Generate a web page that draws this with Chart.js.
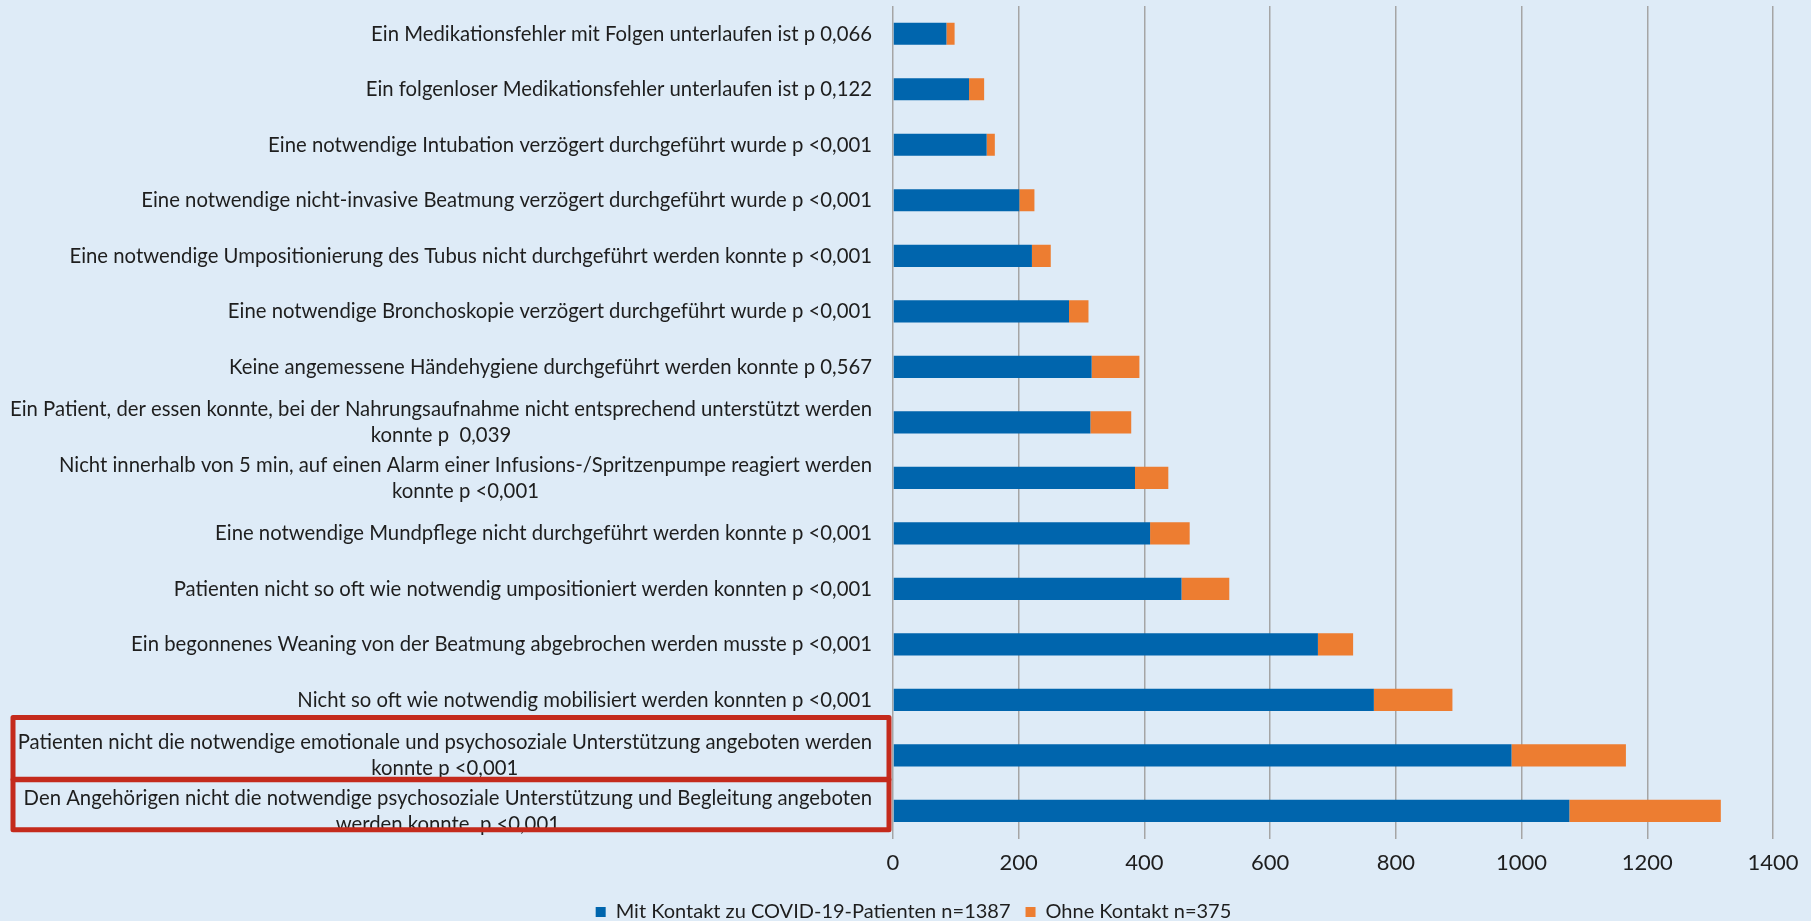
<!DOCTYPE html>
<html>
<head>
<meta charset="utf-8">
<script src="https://cdn.jsdelivr.net/npm/chart.js@4.4.1/dist/chart.umd.min.js"></script>
<style>
    html, body { margin: 0; padding: 0; background: #deebf7; overflow: hidden; }
    /* canvas runs a bit below the window so the legend sits low like in the original */
    #wrap { width: 1811px; height: 921px; overflow: hidden; }
</style>
</head>
<body>
<div id="wrap"><canvas id="careChart" width="1811" height="932"></canvas></div>
<script>
// categories (top to bottom), multi-line labels as arrays
const categories = [
    "Ein Medikationsfehler mit Folgen unterlaufen ist p 0,066",
    "Ein folgenloser Medikationsfehler unterlaufen ist p 0,122",
    "Eine notwendige Intubation verzögert durchgeführt wurde p <0,001",
    "Eine notwendige nicht-invasive Beatmung verzögert durchgeführt wurde p <0,001",
    "Eine notwendige Umpositionierung des Tubus nicht durchgeführt werden konnte p <0,001",
    "Eine notwendige Bronchoskopie verzögert durchgeführt wurde p <0,001",
    "Keine angemessene Händehygiene durchgeführt werden konnte p 0,567",
    ["Ein Patient, der essen konnte, bei der Nahrungsaufnahme nicht entsprechend unterstützt werden", "konnte p  0,039"],
    ["Nicht innerhalb von 5 min, auf einen Alarm einer Infusions-/Spritzenpumpe reagiert werden", "konnte p <0,001"],
    "Eine notwendige Mundpflege nicht durchgeführt werden konnte p <0,001",
    "Patienten nicht so oft wie notwendig umpositioniert werden konnten p <0,001",
    "Ein begonnenes Weaning von der Beatmung abgebrochen werden musste p <0,001",
    "Nicht so oft wie notwendig mobilisiert werden konnten p <0,001",
    ["Patienten nicht die notwendige emotionale und psychosoziale Unterstützung angeboten werden", "konnte p <0,001"],
    ["Den Angehörigen nicht die notwendige psychosoziale Unterstützung und Begleitung angeboten", "werden konnte  p <0,001"]
];

// series values
const mitKontakt = [85, 121, 149, 201, 221, 280, 316, 314, 385, 409, 459, 676, 765, 984, 1076];
const ohneKontakt = [13, 24, 13, 24, 30, 31, 76, 65, 53, 63, 76, 56, 125, 182, 241];

const seriesNames = ["Mit Kontakt zu COVID-19-Patienten n=1387", "Ohne Kontakt n=375"];
const xTicks = [0, 200, 400, 600, 800, 1000, 1200, 1400];

// categories framed in red
const highlighted = [13, 14];

const fontFamily = "Lato, 'Open Sans', sans-serif";
const labelFont = "22px " + fontFamily;
const textColor = "#1e1e1e";
const widestLabelPx = 862;   // width of the longest label line in the picture

// draw category labels (right aligned block, lines centered) and red frames
const sideLabels = {
    id: 'sideLabels',
    afterDraw(chart) {
        const ctx = chart.ctx;
        const yScale = chart.scales.y;
        const area = chart.chartArea;
        const right = area.left - 21;
        const lineH = 26;
        ctx.save();
        ctx.font = labelFont;
        ctx.fillStyle = textColor;
        ctx.textAlign = 'center';
        ctx.textBaseline = 'middle';

        // squeeze text a little if the font runs wider than the original
        let widest = 0;
        categories.forEach(lab => {
            (Array.isArray(lab) ? lab : [lab]).forEach(l => {
                widest = Math.max(widest, ctx.measureText(l).width);
            });
        });
        const squeeze = Math.min(1, widestLabelPx / widest);

        categories.forEach((lab, i) => {
            const lines = Array.isArray(lab) ? lab : [lab];
            const w = Math.max(...lines.map(l => ctx.measureText(l).width)) * squeeze;
            const cx = right - w / 2;
            const cy = yScale.getPixelForValue(i);
            lines.forEach((l, k) => {
                const lw = ctx.measureText(l).width * squeeze;
                ctx.fillText(l, cx, cy + (k - (lines.length - 1) / 2) * lineH, lw);
            });
        });

        // red boxes
        ctx.strokeStyle = '#c42a1c';
        ctx.lineWidth = 5;
        ctx.lineJoin = 'round';
        const band = yScale.getPixelForValue(1) - yScale.getPixelForValue(0);
        highlighted.forEach((i, k) => {
            const cy = yScale.getPixelForValue(i);
            const top = k === 0 ? cy - band * 0.68 : cy - band * 0.56;
            const bottom = k === 0 ? cy + band * 0.43 : cy + band * 0.34;
            ctx.strokeRect(13, top, area.left - 4 - 13, bottom - top);
        });
        ctx.restore();
    }
};

const ctx = document.getElementById('careChart').getContext('2d');
const careChart = new Chart(ctx, {
    type: 'bar',
    data: {
        labels: categories,
        datasets: [
            {
                label: seriesNames[0],
                data: mitKontakt,
                backgroundColor: '#0065ad',
                barPercentage: 0.8,
                categoryPercentage: 0.5
            },
            {
                label: seriesNames[1],
                data: ohneKontakt,
                backgroundColor: '#ed7d31',
                barPercentage: 0.8,
                categoryPercentage: 0.5
            }
        ]
    },
    options: {
        indexAxis: 'y',
        responsive: false,
        animation: false,
        layout: { padding: { left: 54, right: 38, top: 6, bottom: 0 } },
        scales: {
            x: {
                stacked: true,
                min: 0,
                max: 1400,
                afterBuildTicks: axis => { axis.ticks = xTicks.map(v => ({ value: v })); },
                grid: { color: '#a5a5a5', lineWidth: 1.5, drawTicks: false },
                border: { display: false },
                ticks: {
                    padding: 11,
                    color: textColor,
                    font: { family: fontFamily, size: 22 },
                    callback: v => String(v)
                }
            },
            y: {
                stacked: true,
                grid: { display: false },
                border: { display: false },
                ticks: { display: false },
                afterFit: axis => { axis.width = 893 - 54; }
            }
        },
        plugins: {
            legend: {
                position: 'bottom',
                labels: {
                    boxWidth: 10,
                    boxHeight: 10,
                    padding: 15,
                    color: textColor,
                    font: { family: fontFamily, size: 20 }
                }
            },
            tooltip: { enabled: false }
        }
    },
    plugins: [sideLabels]
});
</script>
</body>
</html>
